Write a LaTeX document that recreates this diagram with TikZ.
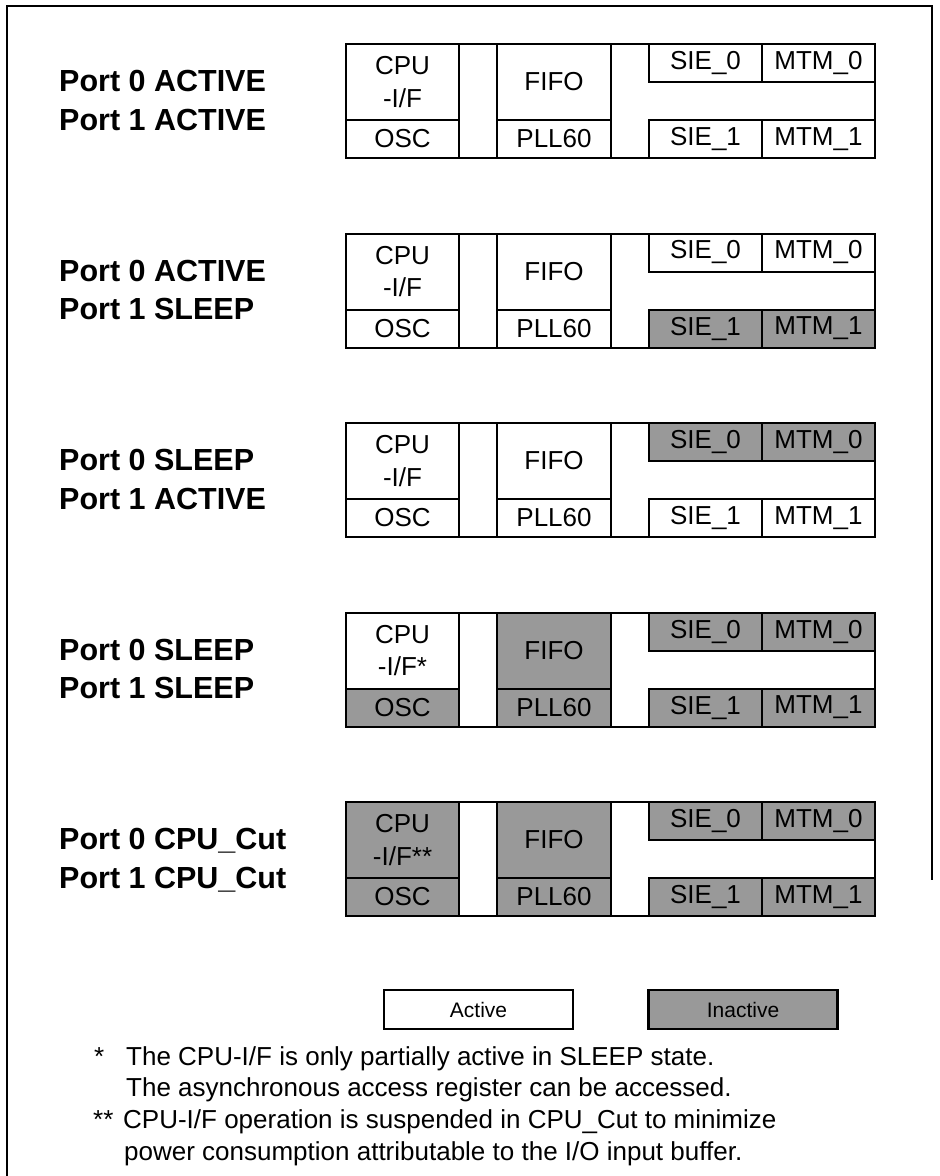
\documentclass[tikz,border=0pt]{standalone}
\usepackage{fontspec}
\setmainfont{Liberation Sans}
\definecolor{offgray}{RGB}{153,153,153}
\tikzset{
  cell/.style={draw=black, line width=2pt, inner sep=0pt, outer sep=0pt, anchor=north west,
    minimum width=113pt, font=\fontsize{26}{32.4}\selectfont, align=center},
  edge/.style={draw=black, line width=2pt, line cap=rect},
  lbl/.style={anchor=base west, inner sep=0pt, font=\fontsize{30.5}{38.5}\selectfont\bfseries},
  legendbox/.style={draw=black, line width=2.5pt, inner sep=0pt, minimum width=189pt, minimum height=39pt, font=\fontsize{21}{25}\selectfont},
  note/.style={anchor=base west, inner sep=0pt, font=\fontsize{26}{31.7}\selectfont},
  frameline/.style={draw=black, line width=2pt}
}
% #1 prefix, #2 top y, #3 cpu fill, #4 cpu suffix, #5 osc fill, #6 fifo fill, #7 pll fill, #8 port0 fill, #9 port1 fill
\newcommand{\stblock}[9]{%
  \node[cell, fill=#3, minimum height=76pt] (#1cpu) at (346,#2) {CPU\\-I/F#4};
  \node[cell, fill=#5, minimum height=38pt] (#1osc) at (346,#2+76) {OSC};
  \node[cell, fill=#6, minimum height=76pt, minimum width=114pt] (#1fifo) at (497,#2) {FIFO};
  \node[cell, fill=#7, minimum height=38pt, minimum width=114pt] (#1pll) at (497,#2+76) {PLL60};
  \node[cell, fill=#8, minimum height=38pt] (#1sieA) at (649,#2) {SIE\_0};
  \node[cell, fill=#8, minimum height=38pt] (#1mtmA) at (762,#2) {MTM\_0};
  \node[cell, fill=#9, minimum height=38pt] (#1sieB) at (649,#2+76) {SIE\_1};
  \node[cell, fill=#9, minimum height=38pt] (#1mtmB) at (762,#2+76) {MTM\_1};
  \draw[edge] (#1cpu.north east) -- (#1fifo.north west);
  \draw[edge] (#1osc.south east) -- (#1pll.south west);
  \draw[edge] (#1fifo.north east) -- (#1sieA.north west);
  \draw[edge] (#1pll.south east) -- (#1sieB.south west);
  \draw[edge] (#1mtmA.south east) -- (#1mtmB.north east);
}
\begin{document}
\begin{tikzpicture}[x=1pt,y=-1pt]
\useasboundingbox[fill=white] (0,0) rectangle (940,1176);
\draw[frameline] (7,1177) -- (7,6) -- (932,6) -- (932,880);

\stblock{a}{44}{white}{}{white}{white}{white}{white}{white}
\stblock{b}{233.5}{white}{}{white}{white}{white}{white}{offgray}
\stblock{c}{423}{white}{}{white}{white}{white}{offgray}{white}
\stblock{d}{612.5}{white}{*}{offgray}{offgray}{offgray}{offgray}{offgray}
\stblock{e}{802}{offgray}{**}{offgray}{offgray}{offgray}{offgray}{offgray}

\node[lbl] (la1) at (59,91.7) {Port 0 ACTIVE};
\node[lbl] (la2) at (59,130.2) {Port 1 ACTIVE};
\node[lbl] (lb1) at (59,281.2) {Port 0 ACTIVE};
\node[lbl] (lb2) at (59,319.7) {Port 1 SLEEP};
\node[lbl] (lc1) at (59,470.7) {Port 0 SLEEP};
\node[lbl] (lc2) at (59,509.2) {Port 1 ACTIVE};
\node[lbl] (ld1) at (59,660.2) {Port 0 SLEEP};
\node[lbl] (ld2) at (59,698.7) {Port 1 SLEEP};
\node[lbl] (le1) at (59,849.7) {Port 0 CPU\_Cut};
\node[lbl] (le2) at (59,888.2) {Port 1 CPU\_Cut};

\node[legendbox, fill=white] (act) at (478.5,1009.5) {Active};
\node[legendbox, fill=offgray] (inact) at (743,1009.5) {Inactive};

\node[note] (n1s) at (94,1065) {*};
\node[note] (n1) at (126,1065) {The CPU-I/F is only partially active in SLEEP state.};
\node[note] (n2) at (126,1096.7) {The asynchronous access register can be accessed.};
\node[note] (n3s) at (93,1128.4) {**};
\node[note] (n3) at (123,1128.4) {CPU-I/F operation is suspended in CPU\_Cut to minimize};
\node[note] (n4) at (124,1160) {power consumption attributable to the I/O input buffer.};
\end{tikzpicture}
\end{document}
